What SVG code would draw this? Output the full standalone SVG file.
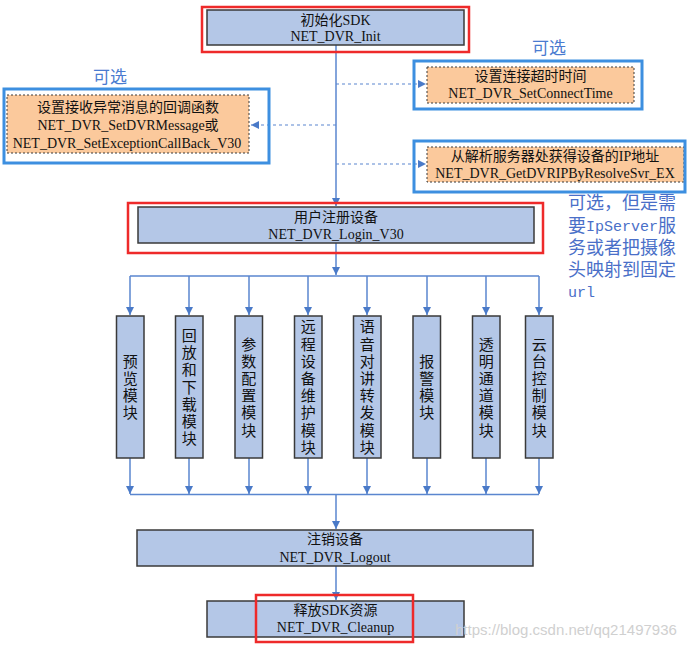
<svg xmlns="http://www.w3.org/2000/svg" width="699" height="649" viewBox="0 0 699 649">
<defs>
<marker id="ah" markerUnits="userSpaceOnUse" markerWidth="10" markerHeight="10" refX="8" refY="4" orient="auto">
<path d="M0,0 L8,4 L0,8 Z" fill="#4A7AC8"/>
</marker>
<style>
.box{fill:#B4C7E7;stroke:#3A3A3A;stroke-width:1.5}
.opt{fill:#FBC99C;stroke:#3A3A3A;stroke-width:1;stroke-dasharray:2,2}
.hb{fill:none;stroke:#3D8FE0;stroke-width:3}
.hr{fill:none;stroke:#EE2A2A;stroke-width:2.5}
.t{font-family:"Liberation Serif","Noto Sans CJK SC",serif;font-size:14px;fill:#111;text-anchor:middle}
.m{font-family:"Noto Sans CJK SC",sans-serif;font-size:15px;fill:#111;text-anchor:middle;writing-mode:vertical-rl;letter-spacing:2.2px}
.lbl{font-family:"Noto Sans CJK SC",sans-serif;font-size:17px;fill:#4A7BD0;text-anchor:middle}
.note{font-family:"Liberation Mono","Noto Sans CJK SC",monospace;font-size:18px;fill:#4A6FC8}
.mono{font-family:"Liberation Mono",monospace;font-size:15px;fill:#4A6FC8}
.ln{fill:none;stroke:#5A86CF;stroke-width:1.5}
.dl{fill:none;stroke:#5A86CF;stroke-width:1.2;stroke-dasharray:3,3}
.wm{font-family:"Liberation Sans",sans-serif;font-size:15px;fill:#D0D0D0}
</style>
</defs>
<rect width="699" height="649" fill="#FFFFFF"/>

<g id="connectors">
<line class="ln" x1="336" y1="45" x2="336" y2="206" marker-end="url(#ah)"/>
<line class="dl" x1="336" y1="125" x2="251" y2="125" marker-end="url(#ah)"/>
<line class="dl" x1="336" y1="84" x2="426" y2="84" marker-end="url(#ah)"/>
<line class="dl" x1="336" y1="164" x2="426" y2="164" marker-end="url(#ah)"/>
<line class="ln" x1="336" y1="243" x2="336" y2="275" marker-end="url(#ah)"/>
<polyline class="ln" points="130,276 539,276"/>
<line class="ln" x1="130" y1="276" x2="130" y2="315" marker-end="url(#ah)"/>
<line class="ln" x1="189" y1="276" x2="189" y2="315" marker-end="url(#ah)"/>
<line class="ln" x1="249" y1="276" x2="249" y2="315" marker-end="url(#ah)"/>
<line class="ln" x1="308" y1="276" x2="308" y2="315" marker-end="url(#ah)"/>
<line class="ln" x1="367" y1="276" x2="367" y2="315" marker-end="url(#ah)"/>
<line class="ln" x1="427" y1="276" x2="427" y2="315" marker-end="url(#ah)"/>
<line class="ln" x1="486" y1="276" x2="486" y2="315" marker-end="url(#ah)"/>
<line class="ln" x1="539" y1="276" x2="539" y2="315" marker-end="url(#ah)"/>
<line class="ln" x1="130" y1="458" x2="130" y2="494" marker-end="url(#ah)"/>
<line class="ln" x1="189" y1="458" x2="189" y2="494" marker-end="url(#ah)"/>
<line class="ln" x1="249" y1="458" x2="249" y2="494" marker-end="url(#ah)"/>
<line class="ln" x1="308" y1="458" x2="308" y2="494" marker-end="url(#ah)"/>
<line class="ln" x1="367" y1="458" x2="367" y2="494" marker-end="url(#ah)"/>
<line class="ln" x1="427" y1="458" x2="427" y2="494" marker-end="url(#ah)"/>
<line class="ln" x1="486" y1="458" x2="486" y2="494" marker-end="url(#ah)"/>
<line class="ln" x1="539" y1="458" x2="539" y2="494" marker-end="url(#ah)"/>
<polyline class="ln" points="130,494.5 539,494.5"/>
<line class="ln" x1="336" y1="494" x2="336" y2="529" marker-end="url(#ah)"/>
<line class="ln" x1="336" y1="566" x2="336" y2="600" marker-end="url(#ah)"/>
</g>

<g id="init">
<rect class="box" x="207" y="10" width="257" height="35"/>
<rect class="hr" x="202" y="7" width="267" height="45"/>
<text class="t" x="335.5" y="25">初始化SDK</text>
<text class="t" x="335.5" y="41">NET_DVR_Init</text>
</g>

<g id="setmsg">
<text class="lbl" x="110" y="83">可选</text>
<rect class="opt" x="7" y="95" width="242" height="58"/>
<rect class="hb" x="4" y="89" width="265" height="74"/>
<text class="t" x="128" y="112">设置接收异常消息的回调函数</text>
<text class="t" x="128" y="130">NET_DVR_SetDVRMessage或</text>
<text class="t" x="127" y="148">NET_DVR_SetExceptionCallBack_V30</text>
</g>

<g id="connecttime">
<text class="lbl" x="549" y="54">可选</text>
<rect class="opt" x="427" y="67" width="207" height="36"/>
<rect class="hb" x="414" y="61" width="228" height="48"/>
<text class="t" x="530.5" y="81">设置连接超时时间</text>
<text class="t" x="530.5" y="98">NET_DVR_SetConnectTime</text>
</g>

<g id="resolve">
<rect class="opt" x="427" y="147" width="257" height="35"/>
<rect class="hb" x="414" y="141" width="271" height="51"/>
<text class="t" x="555" y="161">从解析服务器处获得设备的IP地址</text>
<text class="t" x="555" y="178">NET_DVR_GetDVRIPByResolveSvr_EX</text>
</g>

<g id="note">
<text class="note" x="568" y="209">可选，但是需</text>
<text class="note" x="568" y="232">要</text>
<text class="mono" x="586" y="231">IpServer</text>
<text class="note" x="658" y="232">服</text>
<text class="note" x="568" y="254">务或者把摄像</text>
<text class="note" x="568" y="276">头映射到固定</text>
<text class="mono" x="568" y="297">url</text>
</g>

<g id="login">
<rect class="box" x="138" y="207" width="396" height="36"/>
<rect class="hr" x="128" y="203" width="415" height="50"/>
<text class="t" x="336" y="222">用户注册设备</text>
<text class="t" x="336" y="239">NET_DVR_Login_V30</text>
</g>

<g id="mod1">
<rect class="box" x="116.5" y="316" width="27.5" height="142"/>
<text class="m" x="130.3" y="388">预览模块</text>
</g>
<g id="mod2">
<rect class="box" x="175.5" y="316" width="27.5" height="142"/>
<text class="m" x="189.3" y="388">回放和下载模块</text>
</g>
<g id="mod3">
<rect class="box" x="235" y="316" width="27.5" height="142"/>
<text class="m" x="248.8" y="388">参数配置模块</text>
</g>
<g id="mod4">
<rect class="box" x="294.5" y="316" width="27.5" height="142"/>
<text class="m" x="308.3" y="388">远程设备维护模块</text>
</g>
<g id="mod5">
<rect class="box" x="353.5" y="316" width="27.5" height="142"/>
<text class="m" x="367.3" y="388">语音对讲转发模块</text>
</g>
<g id="mod6">
<rect class="box" x="413" y="316" width="27.5" height="142"/>
<text class="m" x="426.8" y="388">报警模块</text>
</g>
<g id="mod7">
<rect class="box" x="472.5" y="316" width="27.5" height="142"/>
<text class="m" x="486.3" y="388">透明通道模块</text>
</g>
<g id="mod8">
<rect class="box" x="525.5" y="316" width="27.5" height="142"/>
<text class="m" x="539.3" y="388">云台控制模块</text>
</g>

<g id="logout">
<rect class="box" x="137" y="530" width="396" height="36"/>
<text class="t" x="335" y="544">注销设备</text>
<text class="t" x="335" y="562">NET_DVR_Logout</text>
</g>

<g id="cleanup">
<rect class="box" x="207" y="601" width="257" height="36"/>
<rect class="hr" x="256" y="595" width="157" height="47"/>
<text class="t" x="335.5" y="615">释放SDK资源</text>
<text class="t" x="335.5" y="632">NET_DVR_Cleanup</text>
</g>

<text class="wm" x="455" y="635">https://blog.csdn.net/qq21497936</text>
</svg>
